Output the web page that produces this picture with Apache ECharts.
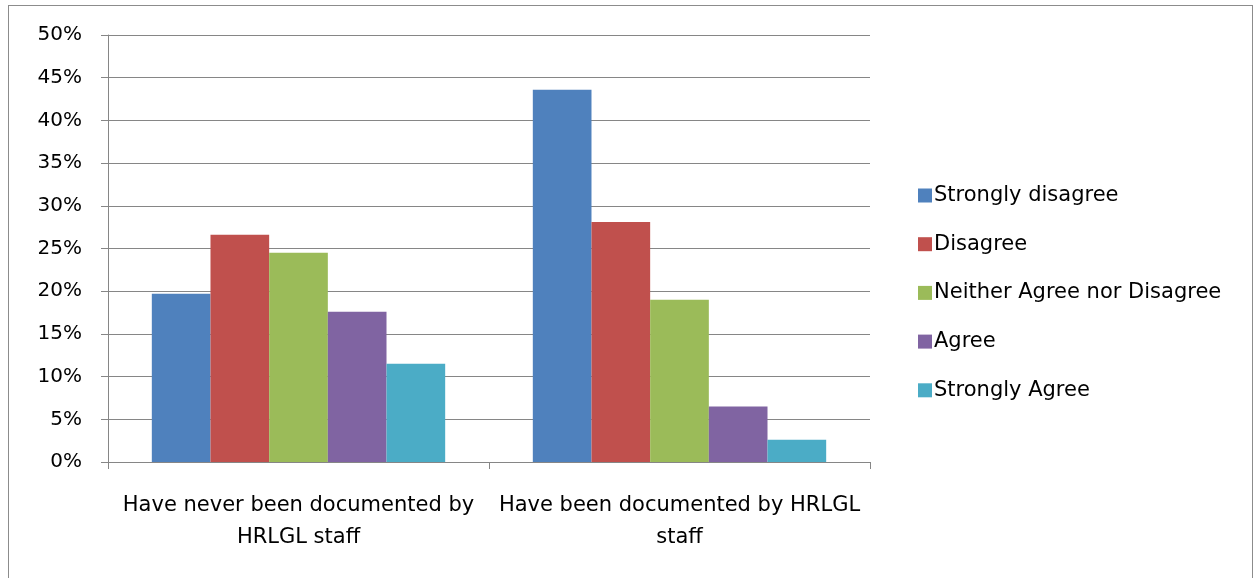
<!DOCTYPE html>
<html>
<head>
<meta charset="utf-8">
<script src="https://cdn.jsdelivr.net/npm/echarts@6/dist/echarts.min.js"></script>
<style>
  html, body { margin: 0; padding: 0; background: #fff; }
  #frame { position: absolute; left: 8px; top: 5px; width: 1245px; height: 600px;
           border: 1px solid #8c8c8c; border-bottom: none; box-sizing: border-box; }
  #chart { position: absolute; left: 0; top: 0; width: 1255px; height: 578px; }
</style>
</head>
<body>
<div id="frame"></div>
<div id="chart"></div>
<script>
// Respondent groups on the x axis
const categories = [
  'Have never been documented by\nHRLGL staff',
  'Have been documented by HRLGL\nstaff'
];

// Response levels and their shares in each group
const seriesNames = [
  'Strongly disagree',
  'Disagree',
  'Neither Agree nor Disagree',
  'Agree',
  'Strongly Agree'
];
const stronglyDisagree = [0.197, 0.436];
const disagree         = [0.266, 0.281];
const neither          = [0.245, 0.190];
const agree            = [0.176, 0.065];
const stronglyAgree    = [0.115, 0.026];

const seriesValues = [stronglyDisagree, disagree, neither, agree, stronglyAgree];
const colors = ['#4f81bd', '#c0504d', '#9bbb59', '#8064a2', '#4bacc6'];

const FONT = '"DejaVu Sans", "Open Sans", sans-serif';
const GREY = '#868686';

const chart = echarts.init(document.getElementById('chart'), null, { renderer: 'canvas' });

chart.setOption({
  animation: false,
  textStyle: { fontFamily: FONT },
  grid: { left: 108, right: 385, top: 35, bottom: 116 },
  legend: {
    orient: 'vertical',
    left: 913,
    top: 180,
    icon: 'rect',
    itemWidth: 14,
    itemHeight: 14,
    itemGap: 27.7,
    textStyle: { fontFamily: FONT, fontSize: 21, color: '#000', lineHeight: 20, padding: [0, 0, 0, -3] },
    data: seriesNames
  },
  xAxis: {
    type: 'category',
    data: categories,
    axisLine: { lineStyle: { color: GREY, width: 1 } },
    axisTick: { show: true, alignWithLabel: false, length: 7, lineStyle: { color: GREY } },
    axisLabel: {
      color: '#000', fontFamily: FONT, fontSize: 21, lineHeight: 32,
      margin: 28, interval: 0, align: 'center'
    },
    splitLine: { show: false }
  },
  yAxis: {
    type: 'value',
    min: 0,
    max: 0.5,
    interval: 0.05,
    axisLine: { show: true, lineStyle: { color: GREY, width: 1 } },
    axisTick: { show: true, length: 7, lineStyle: { color: GREY } },
    axisLabel: {
      color: '#000', fontFamily: FONT, fontSize: 20, margin: 26,
      formatter: v => Math.round(v * 100) + '%'
    },
    splitLine: { show: true, lineStyle: { color: GREY, width: 1 } }
  },
  series: seriesNames.map((name, i) => ({
    name,
    type: 'bar',
    data: seriesValues[i],
    barGap: '0%',
    barCategoryGap: '23%',
    itemStyle: { color: colors[i] }
  }))
});
</script>
</body>
</html>
